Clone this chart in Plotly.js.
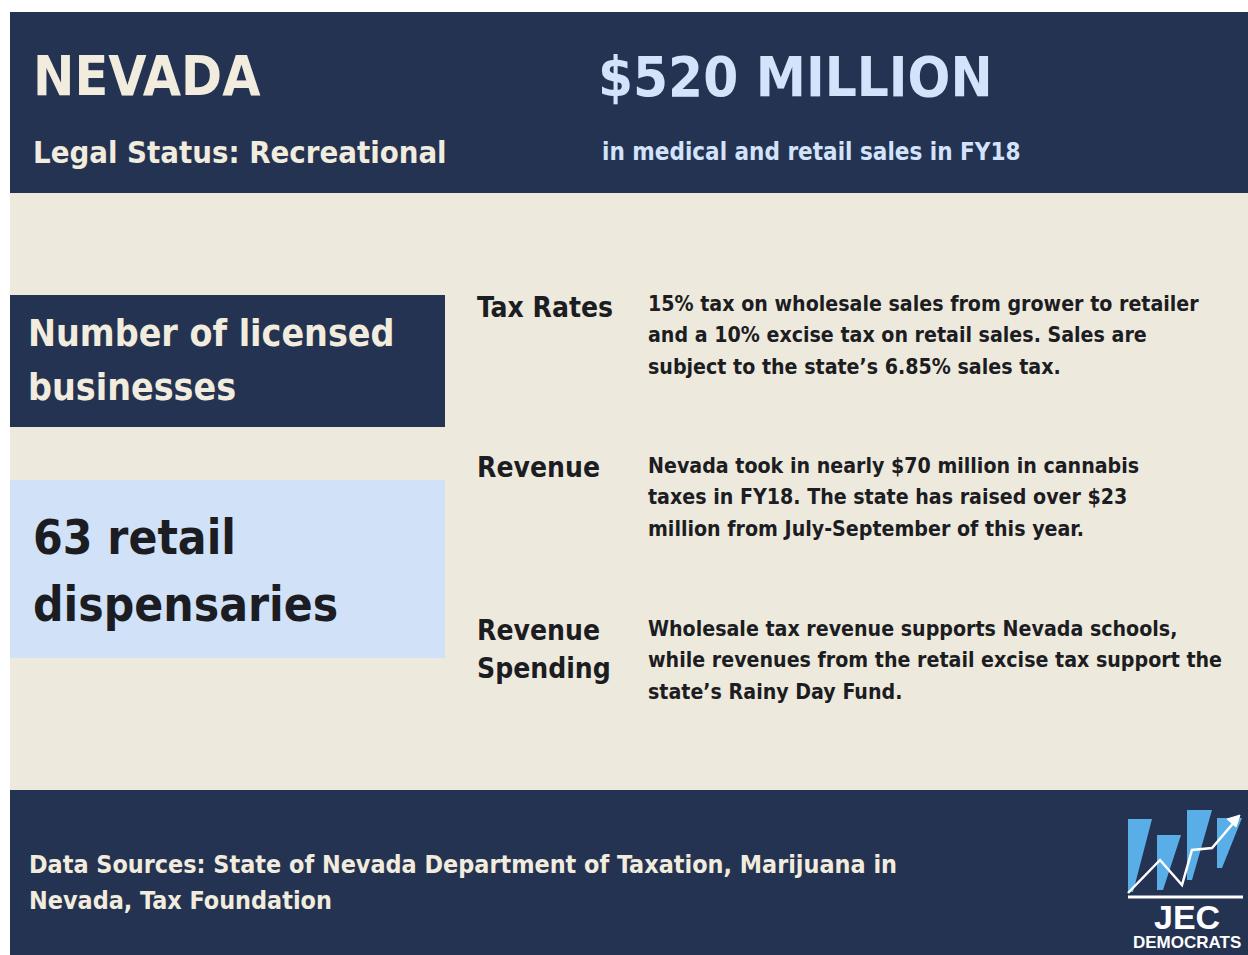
<!DOCTYPE html>
<html>
<head>
<meta charset="utf-8">
<script src="https://cdn.plot.ly/plotly-3.0.1.min.js"></script>
<style>
html,body{margin:0;padding:0;background:#ffffff;}
#chart{width:1248px;height:955px;}
</style>
</head>
<body>
<div id="chart"></div>
<script>
// ---- content ----
const stateName = "NEVADA";
const legalStatus = "Legal Status: Recreational";
const salesHeadline = "$520 MILLION";
const salesNote = "in medical and retail sales in FY18";
const businessLabelLines = ["Number of licensed", "businesses"];
const businessCountLines = ["63 retail", "dispensaries"];
const sectionLabels = [["Tax Rates"], ["Revenue"], ["Revenue", "Spending"]];
const sectionBodies = [
  ["15% tax on wholesale sales from grower to retailer",
   "and a 10% excise tax on retail sales. Sales are",
   "subject to the state\u2019s 6.85% sales tax."],
  ["Nevada took in nearly $70 million in cannabis",
   "taxes in FY18. The state has raised over $23",
   "million from July-September of this year."],
  ["Wholesale tax revenue supports Nevada schools,",
   "while revenues from the retail excise tax support the",
   "state\u2019s Rainy Day Fund."]
];
const sourceLines = ["Data Sources: State of Nevada Department of Taxation, Marijuana in",
                     "Nevada, Tax Foundation"];
const logoLines = ["JEC", "DEMOCRATS"];

// ---- style ----
const NAVY = "#253352", CREAM = "#eee9dd", TXT_CREAM = "#f1ecdd", LIGHTBLUE = "#d0e1f8",
      HEAD_BLUE = "#d3e3fb", INK = "#1c1d22", LOGO_BLUE = "#5aaee8";
const FONT = "'Liberation Sans Narrow', 'DejaVu Sans Condensed', 'Arial Narrow', sans-serif";

const shapes = [];
const ann = [];
function rect(x0,y0,x1,y1,color){shapes.push({type:'rect',xref:'x',yref:'y',x0,y0,x1,y1,fillcolor:color,line:{width:0},layer:'below'});}
function txt(x,y,text,size,color,opts){
  ann.push(Object.assign({xref:'x',yref:'y',x,y,text,showarrow:false,xanchor:'left',yanchor:'middle',
    font:{family:FONT,size,color,weight:700}},opts||{}));
}

// backgrounds
rect(10,193,1248,790,CREAM);
rect(10,12,1248,193,NAVY);
rect(10,790,1248,955,NAVY);
rect(10,295,445,427,NAVY);
rect(10,480,445,658,LIGHTBLUE);

// header
txt(31,76,stateName,55,TXT_CREAM);
txt(31,152,legalStatus,30.8,TXT_CREAM);
txt(596,76,salesHeadline,56,HEAD_BLUE);
txt(600,152,salesNote,24,HEAD_BLUE);

// left boxes
businessLabelLines.forEach((l,i)=>txt(26,333+i*54,l,37.2,TXT_CREAM));
businessCountLines.forEach((l,i)=>txt(31,537+i*67,l,47.5,INK));

// sections
const labelY = [307,467,630];
const bodyY = [303,465,628];
sectionLabels.forEach((lines,s)=>lines.forEach((l,i)=>txt(475,labelY[s]+i*38,l,28,INK)));
sectionBodies.forEach((lines,s)=>lines.forEach((l,i)=>txt(646,bodyY[s]+i*31.5,l,21.2,INK)));

// footer
sourceLines.forEach((l,i)=>txt(27,864+i*36,l,24.9,TXT_CREAM));

// logo
const bars = [
  [[1128,819],[1152,819],[1133,892],[1128,892]],
  [[1157,835],[1181,835],[1163,890],[1157,890]],
  [[1187,810],[1212,810],[1192,880],[1187,880]],
  [[1217,818],[1242,818],[1222,868],[1217,868]]
];
bars.forEach(b=>{
  shapes.push({type:'path',xref:'x',yref:'y',path:'M'+b.map(p=>p.join(',')).join(' L')+' Z',
    fillcolor:LOGO_BLUE,line:{width:0}});
});
shapes.push({type:'path',xref:'x',yref:'y',
  path:'M1128,893 L1160,860 L1182,885 L1192,850 L1212,848 L1236,820',
  line:{color:'#ffffff',width:2.5}});
shapes.push({type:'path',xref:'x',yref:'y',path:'M1240,815 L1227,819 L1236,827 Z',
  fillcolor:'#ffffff',line:{color:'#ffffff',width:1}});
shapes.push({type:'line',xref:'x',yref:'y',x0:1128,x1:1243,y0:897,y1:897,line:{color:'#ffffff',width:3}});
ann.push({xref:'x',yref:'y',x:1187,y:917,text:logoLines[0],showarrow:false,xanchor:'center',yanchor:'middle',
  font:{family:"'Liberation Sans', Arial, sans-serif",size:34,color:'#ffffff',weight:700}});
ann.push({xref:'x',yref:'y',x:1187,y:942,text:logoLines[1],showarrow:false,xanchor:'center',yanchor:'middle',
  font:{family:"'Liberation Sans', Arial, sans-serif",size:17,color:'#ffffff',weight:700}});

const layout = {
  width:1248,height:955,
  margin:{l:0,r:0,t:0,b:0,pad:0},
  paper_bgcolor:'#ffffff',plot_bgcolor:'#ffffff',
  xaxis:{range:[0,1248],visible:false,fixedrange:true},
  yaxis:{range:[955,0],visible:false,fixedrange:true},
  shapes,annotations:ann,showlegend:false
};
Plotly.newPlot('chart',[],layout,{staticPlot:true,displayModeBar:false});
</script>
</body>
</html>
